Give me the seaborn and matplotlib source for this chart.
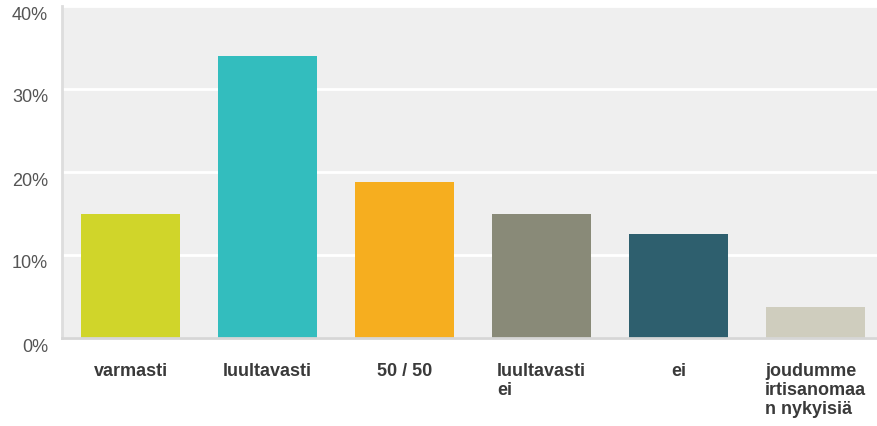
import matplotlib
matplotlib.use("Agg")
import matplotlib.pyplot as plt
import matplotlib.transforms as mtransforms
import seaborn as sns
import pandas as pd

categories = ["varmasti", "luultavasti", "50 / 50", "luultavasti\nei", "ei",
              "joudumme\nirtisanomaa\nn nykyisiä"]
values = [15.0, 34.0, 18.8, 15.0, 12.5, 3.7]
colors = ["#D0D52A", "#33BDBE", "#F6AE1F", "#898A78", "#2E5F6E", "#CFCDBE"]
yticks = [0, 10, 20, 30, 40]
yticklabels = ["0%", "10%", "20%", "30%", "40%"]

sns.set_theme(style="white")
plt.rcParams["font.family"] = ["Liberation Sans", "DejaVu Sans"]

df = pd.DataFrame({"cat": categories, "val": values})

fig = plt.figure(figsize=(8.78, 4.26), dpi=100)
ax = fig.add_axes([62 / 878, (426 - 338) / 426, (884 - 62) / 878, (338 - 6) / 426])
ax.set_facecolor("#EFEFEF")

sns.barplot(data=df, x="cat", y="val", hue="cat", palette=colors, legend=False,
            width=0.724, ax=ax, saturation=1, edgecolor="none", linewidth=0)

ax.set_ylim(0, 40)
ax.set_xlim(-0.5, len(categories) - 0.5)
ax.set_yticks(yticks)
ax.set_yticklabels([])
ax.yaxis.grid(True, color="white", linewidth=2)
ax.set_axisbelow(True)
ax.set_xlabel("")
ax.set_ylabel("")
ax.tick_params(axis="y", length=0)
ax.set_xticks([])

# y tick labels, drawn slightly below their gridlines as in the reference
ytrans = mtransforms.blended_transform_factory(ax.transAxes, ax.transData)
offset = mtransforms.ScaledTranslation(-14 / 100, -9 / 100, fig.dpi_scale_trans)
for v, lab in zip(yticks, yticklabels):
    ax.text(0, v, lab, transform=ytrans + offset, ha="right", va="center",
            fontsize=13, color="#555555", clip_on=False)

for s in ["top", "right"]:
    ax.spines[s].set_visible(False)
ax.spines["left"].set_color("#DDDDDD")
ax.spines["left"].set_linewidth(2)
ax.spines["bottom"].set_color("#D6D6D6")
ax.spines["bottom"].set_linewidth(2)

trans = mtransforms.blended_transform_factory(ax.transData, ax.transAxes)
for i, lab in enumerate(categories):
    ax.text(i, -0.075, lab, transform=trans, ha="center", va="top",
            multialignment="left", fontsize=13, fontweight="bold",
            color="#3A3A3A", linespacing=1.17)

fig.savefig("out.png", dpi=100)
